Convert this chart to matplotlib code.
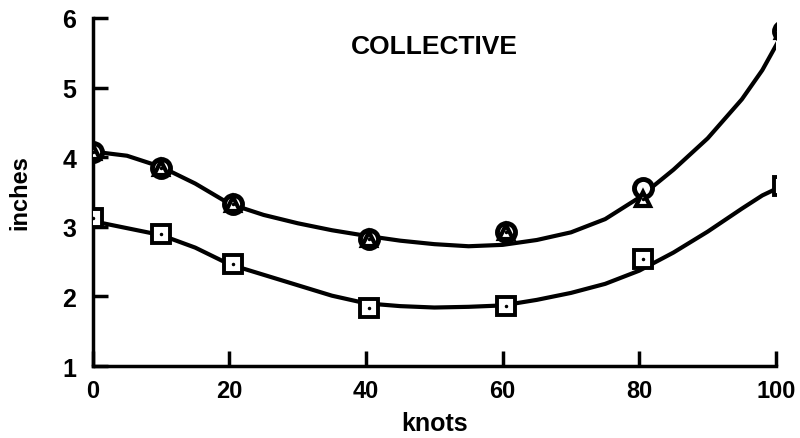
import matplotlib.pyplot as plt

plt.rcParams['font.family'] = ['Liberation Sans', 'DejaVu Sans']
plt.rcParams['font.weight'] = 'bold'

# measured points (knots vs inches)
knots = [0, 10, 20.5, 40.5, 60.5, 80.5, 101]
circle_in = [4.08, 3.85, 3.33, 2.83, 2.93, 3.55, 5.81]
triangle_in = [4.08, 3.85, 3.33, 2.83, 2.93, 3.40, 5.81]
square_in = [3.12, 2.90, 2.46, 1.84, 1.86, 2.54, 3.59]

# faired curves
curve_x = [0, 5, 10, 15, 20, 25, 30, 35, 40, 45, 50, 55, 60, 65, 70, 75, 80, 85, 90, 95, 98, 101]
upper_curve = [4.08, 4.02, 3.86, 3.62, 3.33, 3.17, 3.05, 2.95, 2.87, 2.80, 2.75, 2.72, 2.74, 2.81, 2.92, 3.11, 3.42, 3.82, 4.27, 4.83, 5.25, 5.78]
lower_curve = [3.08, 2.98, 2.88, 2.70, 2.46, 2.31, 2.16, 2.01, 1.90, 1.86, 1.84, 1.85, 1.87, 1.95, 2.05, 2.18, 2.37, 2.63, 2.93, 3.26, 3.45, 3.59]

x_ticks = [0, 20, 40, 60, 80, 100]
y_ticks = [1, 2, 3, 4, 5, 6]

fig = plt.figure(figsize=(8, 4.39), dpi=100)
ax = fig.add_axes([0.116, 0.164, 0.854, 0.793])

ax.plot(curve_x, upper_curve, color='black', lw=3, zorder=2)
ax.plot(curve_x, lower_curve, color='black', lw=3, zorder=2)

ax.plot(knots, circle_in, 'o', ms=13, mfc='white', mec='black', mew=3.5, zorder=3)
ax.plot(knots, triangle_in, '^', ms=10, mfc='white', mec='black', mew=3, zorder=4)
ax.plot(knots, square_in, 's', ms=13, mfc='white', mec='black', mew=2.8, zorder=3)
ax.plot(knots, triangle_in, '.', ms=3, color='black', zorder=5)
ax.plot(knots, square_in, '.', ms=3, color='black', zorder=5)

ax.set_xlim(0, 100)
ax.set_ylim(1, 6)
ax.set_xticks(x_ticks)
ax.set_yticks(y_ticks)
ax.spines['top'].set_visible(False)
ax.spines['right'].set_visible(False)
ax.spines['left'].set_linewidth(2.5)
ax.spines['bottom'].set_linewidth(2.5)
ax.tick_params(axis='both', direction='in', length=11, width=2.5)
ax.tick_params(axis='x', labelsize=17, pad=9)
ax.tick_params(axis='y', labelsize=18, pad=12)
for lab in ax.get_xticklabels() + ax.get_yticklabels():
    lab.set_fontweight('bold')
ax.patch.set_visible(False)
for s in ax.spines.values():
    s.set_clip_on(False)

ax.set_xlabel('knots', fontsize=18, fontweight='bold', labelpad=7)
ax.set_ylabel('inches', fontsize=17, fontweight='bold', labelpad=22)
ax.text(50, 5.6, 'COLLECTIVE', fontsize=19, fontweight='bold', ha='center', va='center')

fig.savefig('out.png', dpi=100)
